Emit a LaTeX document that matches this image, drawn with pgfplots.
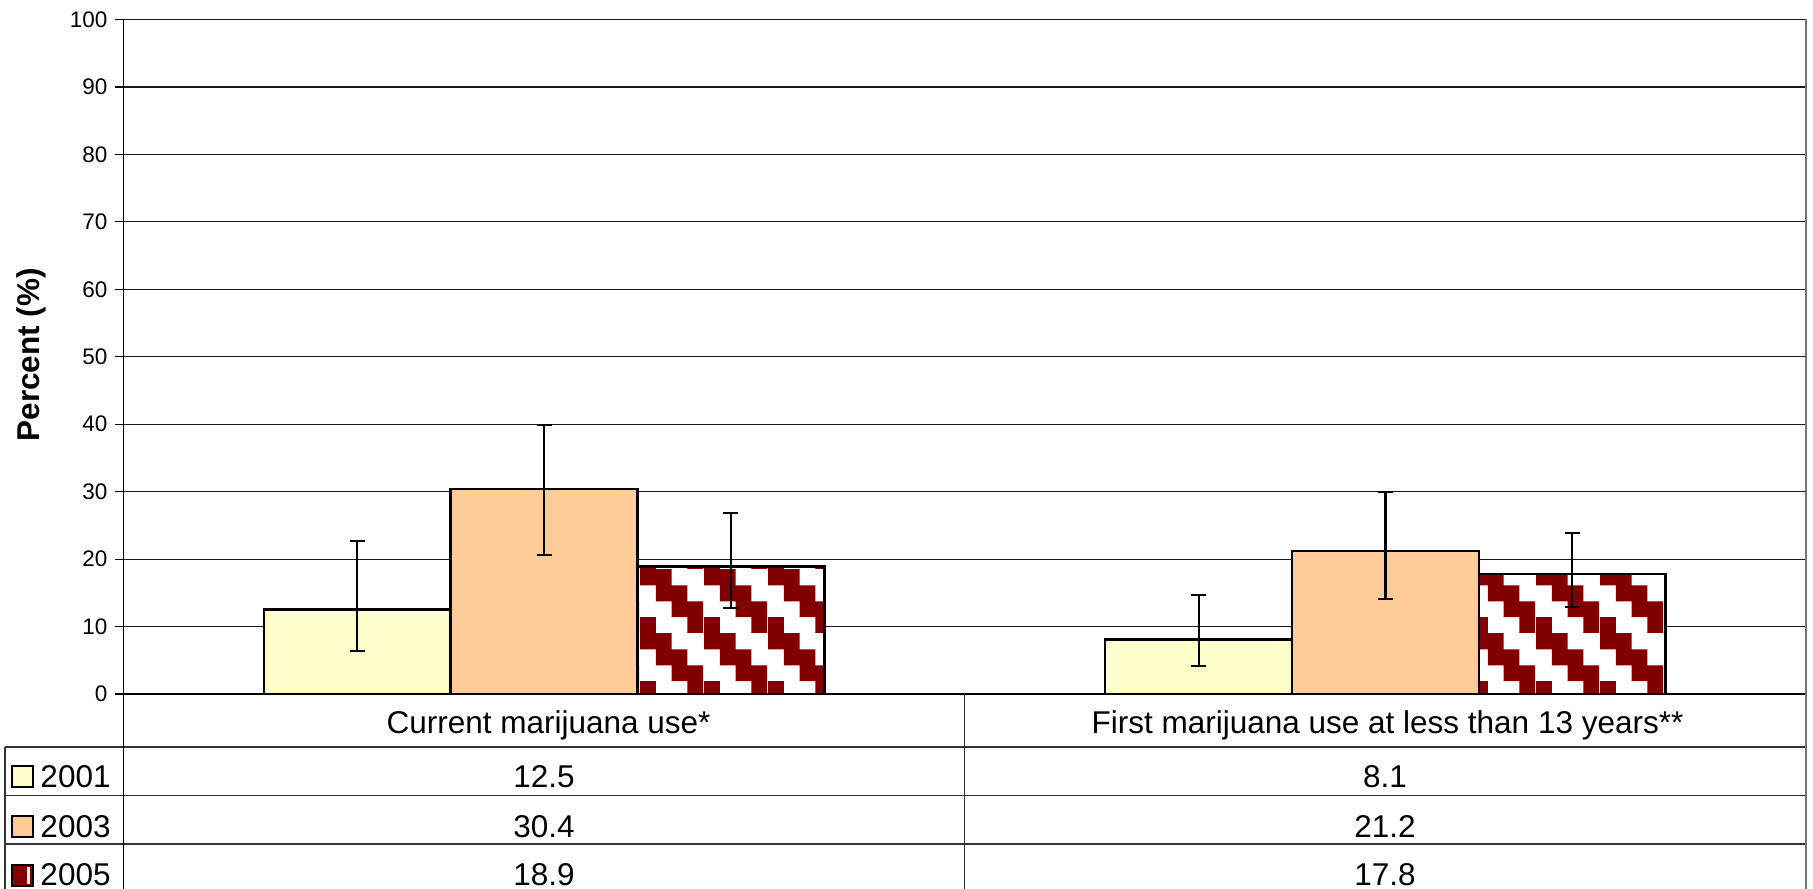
\documentclass[border=0pt]{standalone}
\usepackage{pgfplots}
\pgfplotsset{compat=1.18}
\usepackage{pgfplotstable}
\usepackage{fontspec}
\setmainfont{Liberation Sans}
\usetikzlibrary{patterns}

\definecolor{cA}{HTML}{FFFFCC}
\definecolor{cB}{HTML}{FFCC99}
\definecolor{cC}{HTML}{800000}
\definecolor{gridc}{HTML}{1A1A1A}

\pgfdeclarepatternformonly{stairs}{\pgfpointorigin}{\pgfpoint{25.6pt}{25.6pt}}{\pgfpoint{25.6pt}{25.6pt}}{%
  \pgfpathrectangle{\pgfpoint{0pt}{19.2pt}}{\pgfpoint{12.8pt}{6.4pt}}%
  \pgfpathrectangle{\pgfpoint{6.4pt}{12.8pt}}{\pgfpoint{12.8pt}{6.4pt}}%
  \pgfpathrectangle{\pgfpoint{12.8pt}{6.4pt}}{\pgfpoint{12.8pt}{6.4pt}}%
  \pgfpathrectangle{\pgfpoint{19.2pt}{0pt}}{\pgfpoint{6.4pt}{6.4pt}}%
  \pgfpathrectangle{\pgfpoint{0pt}{0pt}}{\pgfpoint{6.4pt}{6.4pt}}%
  \pgfusepath{fill}}

% x: 0 = Current marijuana use*, 1 = First marijuana use at less than 13 years**
\pgfplotstableread{
x y ep em
0 12.5 10.2 6.1
1 8.1 6.6 3.9
}\tA
\pgfplotstableread{
x y ep em
0 30.4 9.5 9.8
1 21.2 8.7 7.1
}\tB
\pgfplotstableread{
x y ep em
0 18.9 7.9 6.1
1 17.8 6.1 4.9
}\tC

\newcommand{\bigf}{\fontsize{12.6}{15}\selectfont}

\begin{document}
\begin{tikzpicture}
\useasboundingbox (-49.4pt,-78pt) rectangle (675.8pt,277.6pt);
\begin{axis}[
  at={(0pt,0pt)}, anchor=south west,
  scale only axis,
  width=673pt, height=269.8pt,
  xmin=-0.5, xmax=1.5,
  ymin=0, ymax=100,
  ytick={0,10,...,100},
  xtick=\empty,
  axis x line*=bottom, axis y line*=left,
  axis line style={black, line width=0.45pt},
  tick align=outside,
  major tick length=3.2pt,
  y tick style={black, line width=0.45pt},
  ymajorgrids,
  grid style={gridc, line width=0.45pt},
  tick label style={font=\fontsize{9}{11}\selectfont},
  /pgf/number format/assume math mode=true,
  yticklabel style={anchor=east, inner sep=0pt, xshift=-3pt},
  every axis y label/.style={at={(axis description cs:-0.055,0.503)}, rotate=90, anchor=center},
  ylabel={\bigf\bfseries Percent (\%)},
  ybar, bar width=0.222,
  error bars/y dir=both, error bars/y explicit,
  error bars/error bar style={black, line width=0.9pt},
  error bars/error mark options={black, line width=0.9pt, mark size=3pt, rotate=90},
  clip=false,
]
\addplot[draw=black, line width=1pt, fill=cA, bar shift=-0.222]
  table[x=x, y=y, y error plus=ep, y error minus=em]{\tA};
\addplot[draw=black, line width=1pt, fill=cB, bar shift=0]
  table[x=x, y=y, y error plus=ep, y error minus=em]{\tB};
\addplot[draw=black, line width=1pt, preaction={fill=white}, pattern=stairs, pattern color=cC, bar shift=0.222]
  table[x=x, y=y, y error plus=ep, y error minus=em]{\tC};
\end{axis}

% data table below the chart
\draw[black!80, line width=0.45pt] (-47.4pt,-21.2pt) -- (673pt,-21.2pt);
\draw[black!80, line width=0.45pt] (-47.4pt,-40.6pt) -- (673pt,-40.6pt);
\draw[black!80, line width=0.45pt] (-47.4pt,-60pt) -- (673pt,-60pt);
\draw[black!80, line width=0.45pt] (-47.4pt,-21.2pt) -- (-47.4pt,-78pt);
\draw[black, line width=0.45pt] (0pt,0pt) -- (0pt,-78pt);
\draw[black!80, line width=0.45pt] (336.4pt,0pt) -- (336.4pt,-78pt);
\draw[black!55, line width=0.6pt] (673pt,269.8pt) -- (673pt,-78pt);

\node[anchor=base, inner sep=0pt] at (170pt,-16pt) {\bigf Current marijuana use*};
\node[anchor=base, inner sep=0pt] at (505.6pt,-16pt) {\bigf First marijuana use at less than 13 years**};

\node[anchor=base, inner sep=0pt] at (168.2pt,-37.2pt) {\bigf 12.5};
\node[anchor=base, inner sep=0pt] at (504.6pt,-37.2pt) {\bigf 8.1};
\node[anchor=base, inner sep=0pt] at (168.2pt,-57.2pt) {\bigf 30.4};
\node[anchor=base, inner sep=0pt] at (504.6pt,-57.2pt) {\bigf 21.2};
\node[anchor=base, inner sep=0pt] at (168.2pt,-76.6pt) {\bigf 18.9};
\node[anchor=base, inner sep=0pt] at (504.6pt,-76.6pt) {\bigf 17.8};

% legend keys
\draw[black, line width=0.8pt, fill=cA] (-44.5pt,-37.4pt) rectangle (-36.1pt,-29pt);
\node[anchor=base west, inner sep=0pt] at (-33.4pt,-37.2pt) {\bigf 2001};
\draw[black, line width=0.8pt, fill=cB] (-44.5pt,-57pt) rectangle (-36.1pt,-48.6pt);
\node[anchor=base west, inner sep=0pt] at (-33.4pt,-57.2pt) {\bigf 2003};
\fill[cC] (-44.5pt,-76.6pt) rectangle (-36.1pt,-68.2pt);
\fill[white] (-38.6pt,-75.8pt) rectangle (-37.2pt,-69pt);
\draw[black, line width=0.8pt] (-44.5pt,-76.6pt) rectangle (-36.1pt,-68.2pt);
\node[anchor=base west, inner sep=0pt] at (-33.4pt,-76.6pt) {\bigf 2005};
\end{tikzpicture}
\end{document}
